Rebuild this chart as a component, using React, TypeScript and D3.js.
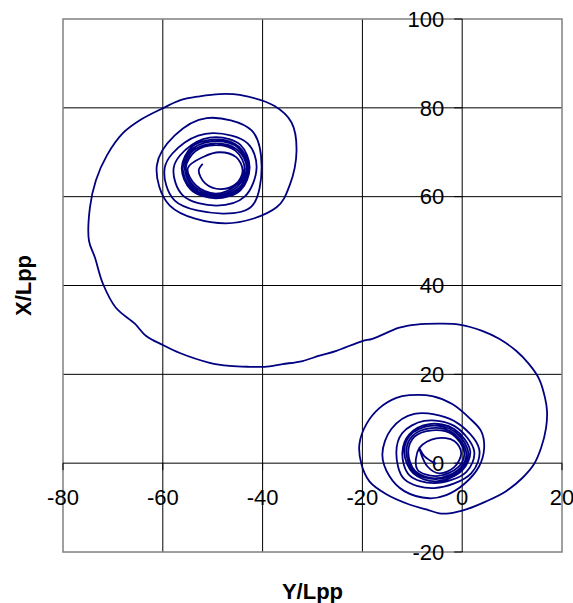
import React from 'react';
import * as d3 from 'd3';

const xTicks = [-80, -60, -40, -20, 0, 20];
const yTicks = [-20, 0, 20, 40, 60, 80, 100];

// [Y/Lpp, X/Lpp] points of the track
const upperSpiral: [number, number][] = [
  [-52.0, 67.4],
  [-52.8, 65.9], [-51.5, 63.0], [-48.4, 61.7], [-45.3, 62.9], [-44.0, 65.9], [-45.3, 68.9], [-48.6, 70.0], [-51.8, 69.0],
  [-55.0, 66.4], [-53.4, 62.6], [-49.4, 60.7], [-45.4, 62.5], [-43.6, 66.4], [-45.4, 70.3], [-49.4, 71.6], [-53.5, 70.2],
  [-55.4, 66.4], [-53.7, 62.3], [-49.4, 60.3], [-45.1, 62.2], [-43.2, 66.6], [-45.1, 70.6], [-49.3, 72.0], [-53.8, 70.5],
  [-55.6, 66.6], [-53.9, 62.0], [-49.3, 60.0], [-44.8, 61.9], [-43.0, 66.5], [-44.9, 71.0], [-49.2, 72.5], [-53.9, 70.9],
  [-56.0, 66.5], [-54.2, 61.8], [-49.4, 59.8], [-44.6, 61.7], [-42.8, 66.6], [-44.7, 71.2], [-49.2, 72.9], [-54.1, 71.3],
  [-56.2, 66.5], [-54.4, 61.6], [-49.4, 59.6], [-44.4, 61.5], [-42.6, 66.6], [-44.4, 71.6], [-49.3, 73.4], [-54.3, 71.6],
  [-57.8, 66.6], [-56.0, 60.3], [-49.2, 58.0], [-43.6, 60.0], [-41.2, 66.6], [-43.0, 72.0], [-50.0, 74.3], [-55.6, 72.2],
  [-59.6, 66.6], [-57.6, 59.1], [-48.0, 56.2], [-42.2, 57.8], [-40.2, 67.0], [-42.2, 74.9], [-51.2, 77.7], [-57.6, 73.8],
  [-61.2, 67.0], [-58.6, 58.0], [-47.4, 54.0], [-37.2, 57.6], [-34.6, 62.5], [-33.2, 70.4], [-34.2, 76.7], [-37.6, 80.4],
  [-44.6, 82.9], [-48.6, 83.1],
];

const crossing: [number, number][] = [
  [-52.6, 82.6], [-56.6, 81.7], [-60.0, 79.9], [-64.6, 77.2], [-68.0, 74.3], [-71.2, 69.3], [-73.4, 63.7],
  [-74.6, 57.6], [-74.8, 50.1], [-73.6, 46.3], [-72.0, 40.4], [-69.4, 35.0], [-65.6, 31.4], [-63.4, 28.7],
  [-60.0, 26.6], [-56.6, 24.8], [-50.6, 22.6], [-46.6, 21.9], [-42.6, 21.7], [-39.6, 21.7], [-36.0, 22.3],
  [-32.0, 23.0], [-28.6, 24.2], [-25.2, 25.3], [-20.0, 27.5], [-18.0, 28.0], [-12.6, 30.5], [-9.2, 31.2],
  [-4.6, 31.4], [-0.6, 31.2], [4.0, 29.8], [7.4, 28.0], [10.8, 25.3], [13.4, 22.3], [15.4, 19.0],
  [16.6, 14.7], [17.0, 11.7], [16.8, 7.9], [15.8, 3.4], [14.4, -0.2], [12.0, -3.4], [8.8, -6.3],
  [4.8, -8.6], [0.8, -10.4], [-2.6, -11.3], [-4.6, -11.3],
];

const lowerSpiral: [number, number][] = [
  [-7.2, -10.4], [-10.6, -9.3], [-15.2, -7.0], [-18.6, -4.1], [-20.2, -0.2], [-20.6, 4.3], [-19.2, 8.8],
  [-16.6, 12.4], [-13.2, 14.7], [-10.6, 15.3], [-6.0, 15.1], [-2.0, 13.3], [1.4, 10.2], [3.8, 7.2],
  [4.4, 3.4], [3.4, -0.7], [0.4, -4.7], [-3.2, -7.2], [-6.6, -7.9], [-11.6, -6.3], [-14.6, -2.9],
  [-16.0, 2.0], [-14.2, 7.7], [-9.6, 11.1], [-1.6, 9.5], [3.4, 3.2], [1.8, -2.3], [-5.6, -5.6], [-11.6, -3.6],
  [-13.2, 2.3], [-12.0, 6.8], [-7.6, 9.5], [-1.6, 8.4], [2.4, 2.7], [0.8, -2.0], [-5.6, -4.5], [-10.6, -2.7],
  [-12.0, 2.3], [-10.6, 6.5], [-6.6, 8.8], [-1.6, 7.7], [1.6, 2.7], [0.0, -1.6], [-5.2, -4.1], [-9.8, -2.3],
  [-11.6, 2.3], [-10.4, 6.3], [-6.4, 8.4], [-1.6, 7.2], [1.2, 2.5], [-0.2, -1.4], [-5.2, -3.6], [-9.6, -2.0],
  [-11.2, 2.5], [-10.0, 6.1], [-6.2, 7.9], [-1.8, 6.8], [0.8, 2.5], [-0.4, -1.1], [-5.2, -3.4], [-9.4, -1.8],
  [-10.8, 2.5], [-9.6, 5.9], [-6.0, 7.4], [-2.0, 6.5], [0.4, 2.5], [-0.8, -0.9], [-5.2, -2.9], [-9.0, -1.4],
  [-8.6, 3.4], [-5.2, 5.6], [-1.6, 5.0], [-0.2, 2.3], [-1.6, -0.9], [-4.6, -2.3], [-7.0, -0.7],
  [-8.6, 3.4], [-7.6, 1.6], [-5.2, -0.2],
];

const width = 573;
const height = 603;
const margin = { top: 19, right: 11, bottom: 51, left: 63 };
const font = '"Liberation Sans", Arial, sans-serif';

export default function App() {
  const x = d3.scaleLinear().domain([-80, 20]).range([margin.left, width - margin.right]);
  const y = d3.scaleLinear().domain([-20, 100]).range([height - margin.bottom, margin.top]);

  const line = d3.line<[number, number]>()
    .x(d => x(d[0]))
    .y(d => y(d[1]))
    .curve(d3.curveCatmullRom.alpha(0.5));

  const track = [...upperSpiral, ...crossing, ...lowerSpiral];
  const x0 = x(0);
  const y0 = y(0);

  return (
    <svg width={width} height={height} style={{ position: 'absolute', left: 0, top: 0, background: '#fff' }}>
      {/* gridlines */}
      {xTicks.slice(1, -1).filter(t => t !== 0).map(t => (
        <line key={'gx' + t} x1={x(t)} x2={x(t)} y1={y(100)} y2={y(-20)} stroke="#000" strokeWidth={1} />
      ))}
      {yTicks.slice(1, -1).filter(t => t !== 0).map(t => (
        <line key={'gy' + t} x1={x(-80)} x2={x(20)} y1={y(t)} y2={y(t)} stroke="#000" strokeWidth={1} />
      ))}
      {/* plot border */}
      <rect x={x(-80)} y={y(100)} width={x(20) - x(-80)} height={y(-20) - y(100)}
        fill="none" stroke="#808080" strokeWidth={1.5} />

      {/* axes through the origin */}
      <line x1={x0} x2={x0} y1={y(100)} y2={y(-20)} stroke="#000" strokeWidth={1} />
      <line x1={x(-80)} x2={x(20)} y1={y0} y2={y0} stroke="#000" strokeWidth={1} />
      {yTicks.map(t => (
        <g key={'ty' + t}>
          <line x1={x0 - 8} x2={x0} y1={y(t)} y2={y(t)} stroke="#000" strokeWidth={1} />
          <text x={x0 - 18} y={y(t)} dy="0.35em" textAnchor="end" fontFamily={font} fontSize={22} fill="#000">{t}</text>
        </g>
      ))}
      {xTicks.map(t => (
        <g key={'tx' + t}>
          <line x1={x(t)} x2={x(t)} y1={y0} y2={y0 + 7} stroke="#000" strokeWidth={1} />
          <text x={x(t)} y={y0 + 42} textAnchor="middle" fontFamily={font} fontSize={22} fill="#000">{t}</text>
        </g>
      ))}

      <path d={line(track) || ''} fill="none" stroke="#000080" strokeWidth={1.8} />

      <text x={(x(-80) + x(20)) / 2} y={599} textAnchor="middle" fontFamily={font} fontSize={22} fontWeight="bold">Y/Lpp</text>
      <text transform={`translate(31, ${(y(100) + y(-20)) / 2}) rotate(-90)`} textAnchor="middle"
        fontFamily={font} fontSize={22} fontWeight="bold">X/Lpp</text>
    </svg>
  );
}
